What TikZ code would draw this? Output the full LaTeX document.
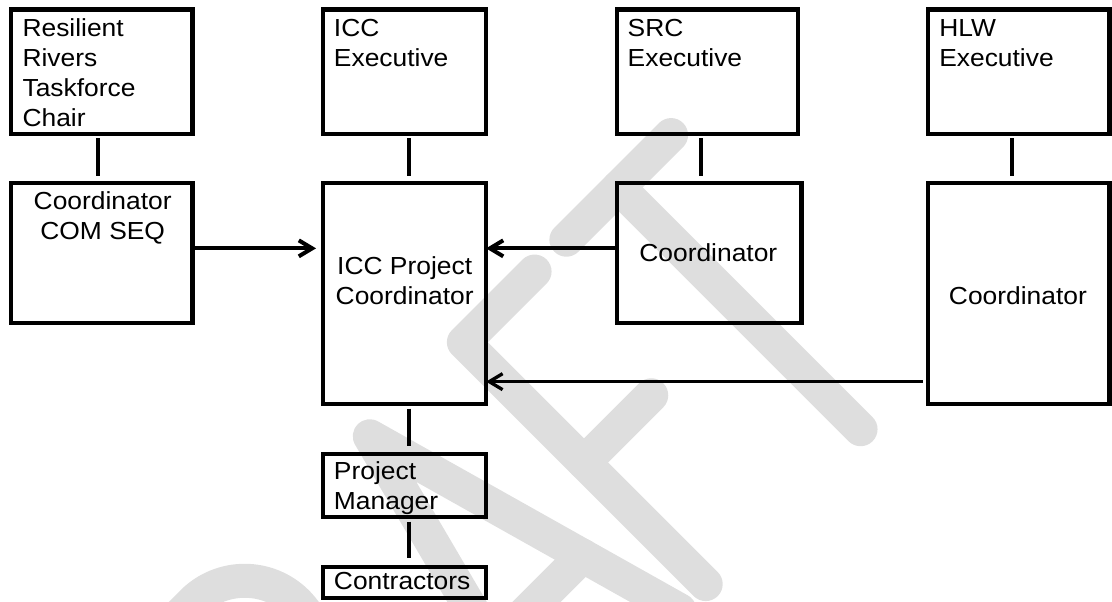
\documentclass[tikz,border=0pt]{standalone}
\usepackage{fontspec}
\setmainfont{Liberation Sans}[FakeStretch=1.07]
\usetikzlibrary{arrows.meta,calc}
\definecolor{wmgray}{RGB}{222,222,222}
\tikzset{
  box/.style 2 args={draw, line width=3.2pt, minimum width=#1, minimum height=#2,
    inner sep=0pt, outer sep=0pt},
  txt/.style={inner sep=0pt, outer sep=0pt, font=\fontsize{18.5}{22.5}\selectfont},
  link/.style={line width=3pt},
  arr/.style={line width=3pt, -{Straight Barb[length=10pt,width=12pt]}},
  wm/.style={wmgray, line width=25.5pt, line cap=round, line join=round}
}
\begin{document}
\begin{tikzpicture}[x=0.75pt,y=-0.75pt]
	\useasboundingbox (0,0) rectangle (1112,602);
	
	% Watermark
	\begin{scope}
		\clip (0,0) rectangle (1112,602);
		\begin{scope}[rotate=45, wm]
			\draw (-370,912) -- (-370,562) -- (-290,562)
			arc[start angle=-90, end angle=90, radius=74] -- (-370,710);
			\draw (-300,710) -- (-205,912);
			\draw (-136,912) -- (-47,570) -- (49,912);
			\draw (-107,805) -- (19,805);
			\draw (186,570) -- (86,570) -- (86,912);
			\draw (86,740) -- (181,740);
			\draw (231,570) -- (379,570);
			\draw (305,570) -- (305,912);
		\end{scope}
	\end{scope}
	
	% Executives
	\node[box={136pt}{93.2pt}] (rrt) at (101.9,71.65) {};
	\node[box={122.5pt}{93.2pt}] (icce) at (404.35,71.65) {};
	\node[box={135.4pt}{93.2pt}] (srce) at (707.5,71.65) {};
	\node[box={136.1pt}{93.2pt}] (hlwe) at (1018.7,71.65) {};
	
	% Coordinators
	\node[box={136pt}{104.6pt}] (comseq) at (101.9,253.05) {};
	\node[box={122.5pt}{165.5pt}] (iccpc) at (404.35,293.65) {};
	\node[box={138.1pt}{104.6pt}] (srcc) at (709.3,253.05) {};
	\node[box={136.1pt}{165.4pt}] (hlwc) at (1018.7,293.55) {};
	
	% Delivery
	\node[box={122.5pt}{47.25pt}] (pm) at (404.35,485.5) {};
	\node[box={122.5pt}{23.5pt}] (con) at (404.35,582.65) {};
	
	% Labels
	\node[txt, anchor=north west, align=left] (rrt-t)
	at ($(rrt.north west)+(11.3,9.6)$) {Resilient\\Rivers\\Taskforce\\Chair};
	\node[txt, anchor=north west, align=left] (icce-t)
	at ($(icce.north west)+(11.3,9.8)$) {ICC\\Executive};
	\node[txt, anchor=north west, align=left] (srce-t)
	at ($(srce.north west)+(10.5,9.8)$) {SRC\\Executive};
	\node[txt, anchor=north west, align=left] (hlwe-t)
	at ($(hlwe.north west)+(11.3,9.8)$) {HLW\\Executive};
	\node[txt, anchor=north, align=center] (comseq-t)
	at ($(comseq.north)+(0.8,8.4)$) {Coordinator\\COM SEQ};
	\node[txt, anchor=north, align=center] (iccpc-t)
	at ($(iccpc.north)+(0.3,73.4)$) {ICC Project\\Coordinator};
	\node[txt, anchor=north] (srcc-t) at ($(srcc.north)+(-1,60.7)$) {Coordinator};
	\node[txt, anchor=north] (hlwc-t) at ($(hlwc.north)+(-0.8,103.4)$) {Coordinator};
	\node[txt, anchor=north west, align=left] (pm-t)
	at ($(pm.north west)+(11.3,7.5)$) {Project\\Manager};
	\node[txt, anchor=north west] (con-t) at ($(con.north west)+(11.3,5.7)$) {Contractors};
	
	% Reporting lines
	\foreach \a/\b/\s/\e in {rrt/comseq/-3.7/5.5, icce/iccpc/4.5/5.5,
		srce/srcc/-6.2/5.5, hlwe/hlwc/-6.3/5.5, iccpc/pm/4.3/6.2, pm/con/4.3/6.5}
	\draw[link, shorten <=3.4pt, shorten >=\e pt] ($(\a.south)+(\s,0)$) coordinate (top)
	-- (top |- \b.north);
	
	% Arrows into ICC Project Coordinator
	\draw[arr, shorten >=5pt] ($(comseq.east)+(1.5,-4.7)$) coordinate (c1)
	-- (c1 -| iccpc.west);
	\draw[arr] ($(srcc.west)+(0,-4.7)$) coordinate (c2) -- (c2 -| iccpc.east);
	\draw[arr, line width=2.5pt] ($(hlwc.west)+(-5,88.1)$) coordinate (c3)
	-- (c3 -| iccpc.east);
	
\end{tikzpicture}
\end{document}
